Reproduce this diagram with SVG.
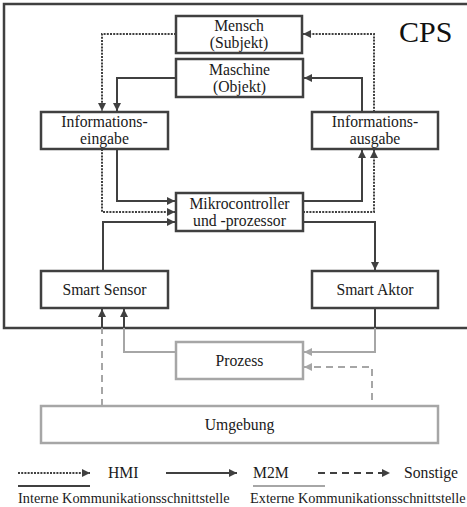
<svg xmlns="http://www.w3.org/2000/svg" width="467" height="507" viewBox="0 0 467 507">
<defs>
<style>
.box{fill:#fff;stroke:#404040;stroke-width:2.5}
.gbox{fill:#fff;stroke:#a6a6a6;stroke-width:2.5}
.t{font-family:"Liberation Serif","Times New Roman",serif;font-size:15.7px;fill:#1a1a1a;text-anchor:middle}
.lt{font-family:"Liberation Serif","Times New Roman",serif;font-size:15.7px;fill:#1a1a1a}
.st{font-family:"Liberation Serif","Times New Roman",serif;font-size:14.3px;fill:#1a1a1a}
.c{fill:none;stroke:#404040;stroke-width:2}
.g{fill:none;stroke:#a6a6a6;stroke-width:2}
.dot{stroke-dasharray:2 1.2}
.dash{stroke-dasharray:7 5}
</style>
<marker id="ad" viewBox="0 0 8 8" refX="8" refY="4" markerWidth="8" markerHeight="8" markerUnits="userSpaceOnUse" orient="auto"><path d="M0,0 L8,4 L0,8 Z" fill="#404040"/></marker>
<marker id="ag" viewBox="0 0 8 8" refX="8" refY="4" markerWidth="8" markerHeight="8" markerUnits="userSpaceOnUse" orient="auto"><path d="M0,0 L8,4 L0,8 Z" fill="#a6a6a6"/></marker>
</defs>
<rect width="467" height="507" fill="#fff"/>
<g id="cps">
<rect x="4" y="4" width="470" height="324" fill="none" stroke="#404040" stroke-width="2.5"/>
<text x="399" y="42" font-family="Liberation Serif,Times New Roman,serif" font-size="30" fill="#111">CPS</text>
</g>
<g id="connectors">
<path class="c dot" d="M176,34 H102 V111" marker-end="url(#ad)"/>
<path class="c dot" d="M374,112 V34 H303" marker-end="url(#ad)"/>
<path class="c" d="M176,78 H117 V111" marker-end="url(#ad)"/>
<path class="c" d="M362,112 V78 H304" marker-end="url(#ad)"/>
<path class="c" d="M117,149 V201 H175" marker-end="url(#ad)"/>
<path class="c dot" d="M102,149 V212 H175" marker-end="url(#ad)"/>
<path class="c" d="M103,271 V222 H175" marker-end="url(#ad)"/>
<path class="c" d="M303,201 H362 V150" marker-end="url(#ad)"/>
<path class="c dot" d="M303,212 H374 V150" marker-end="url(#ad)"/>
<path class="c" d="M303,222 H375 V270" marker-end="url(#ad)"/>
<path class="c" d="M375,308 V328"/>
<path class="g" d="M375,328 V352 H304" marker-end="url(#ag)"/>
<path class="g" d="M176,352 H124 V328"/>
<path class="c" d="M124,328 V309" marker-end="url(#ad)"/>
<path class="g dash" d="M102,406 V328"/>
<path class="c" d="M102,328 V309" marker-end="url(#ad)"/>
<path class="g dash" d="M372,400 V367 H304" marker-end="url(#ag)"/>
</g>
<g id="mensch"><rect class="box" x="176" y="16" width="126" height="37"/><text class="t" x="239" y="31">Mensch</text><text class="t" x="239" y="48">(Subjekt)</text></g>
<g id="maschine"><rect class="box" x="176" y="59" width="127" height="38"/><text class="t" x="239.5" y="75">Maschine</text><text class="t" x="239.5" y="92">(Objekt)</text></g>
<g id="eingabe"><rect class="box" x="41" y="112" width="127" height="37"/><text class="t" x="104.5" y="127">Informations-</text><text class="t" x="104.5" y="144">eingabe</text></g>
<g id="ausgabe"><rect class="box" x="312" y="112" width="126" height="37"/><text class="t" x="375" y="127">Informations-</text><text class="t" x="375" y="144">ausgabe</text></g>
<g id="mikro"><rect class="box" x="176" y="193" width="127" height="38"/><text class="t" x="239.5" y="209">Mikrocontroller</text><text class="t" x="239.5" y="226">und -prozessor</text></g>
<g id="sensor"><rect class="box" x="41" y="271" width="127" height="37"/><text class="t" x="104.5" y="295">Smart Sensor</text></g>
<g id="aktor"><rect class="box" x="312" y="271" width="126" height="37"/><text class="t" x="375" y="295">Smart Aktor</text></g>
<g id="prozess"><rect class="gbox" x="176" y="342" width="127" height="37"/><text class="t" x="239.5" y="366">Prozess</text></g>
<g id="umgebung"><rect class="gbox" x="41" y="406" width="397" height="37"/><text class="t" x="239.5" y="430">Umgebung</text></g>
<g id="legend">
<path class="c dot" d="M18,473 H90" marker-end="url(#ad)"/>
<text class="lt" x="108" y="478">HMI</text>
<path class="c" d="M166,473 H237" marker-end="url(#ad)"/>
<text class="lt" x="253" y="478">M2M</text>
<path class="c dash" d="M318,473 H390" marker-end="url(#ad)"/>
<text class="lt" x="404" y="478">Sonstige</text>
<line x1="18" y1="486" x2="90" y2="486" stroke="#404040" stroke-width="2"/>
<line x1="253" y1="486" x2="325" y2="486" stroke="#a6a6a6" stroke-width="2"/>
<text class="st" x="18" y="503">Interne Kommunikationsschnittstelle</text>
<text class="st" x="250" y="503">Externe Kommunikationsschnittstelle</text>
</g>
</svg>
